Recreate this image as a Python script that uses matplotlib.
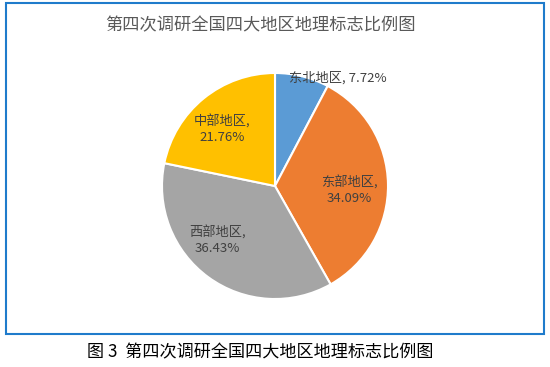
import matplotlib.pyplot as plt
from matplotlib.patches import Rectangle

plt.rcParams['font.family'] = ['Noto Sans CJK SC', 'DejaVu Sans']

regions = ['东北地区', '东部地区', '西部地区', '中部地区']
shares = [7.72, 34.09, 36.43, 21.76]
colors = ['#5B9BD5', '#ED7D31', '#A5A5A5', '#FFC000']
title = '第四次调研全国四大地区地理标志比例图'
caption = '图 3  第四次调研全国四大地区地理标志比例图'

W, H = 550, 367
fig = plt.figure(figsize=(W / 100, H / 100), dpi=100)

# blue frame around the chart
fig.patches.append(Rectangle((5.5 / W, 1 - 334 / H), 538.5 / W, 331.5 / H,
                             transform=fig.transFigure, fill=False,
                             edgecolor='#1F7BCB', linewidth=1.5))

cx, cy, r = 275, 186, 113
ax = fig.add_axes([(cx - r) / W, 1 - (cy + r) / H, 2 * r / W, 2 * r / H])
ax.pie(shares, colors=colors, startangle=90, counterclock=False,
       wedgeprops=dict(edgecolor='white', linewidth=1.5))
ax.set_xlim(-1, 1)
ax.set_ylim(-1, 1)
ax.set_aspect('equal')
ax.axis('off')

# label anchors in pie units (Excel-like placement)
label_pos = [(0.12, 0.955), (0.66, -0.04), (-0.51, -0.48), (-0.47, 0.50)]
for name, v, (x, y) in zip(regions, shares, label_pos):
    if v < 10:
        ax.text(x, y, f'{name}, {v:.2f}%', ha='left', va='center',
                fontsize=9.5, color='#404040')
    else:
        ax.text(x, y, f'{name},\n{v:.2f}%', ha='center', va='center',
                fontsize=9.5, color='#404040', linespacing=1.25)

fig.text(260 / W, 1 - 25 / H, title, ha='center', va='center',
         fontsize=12.4, color='#595959')
fig.text(260 / W, 1 - 352 / H, caption, ha='center', va='center',
         fontsize=12.3, color='black')

fig.savefig('out.png', dpi=100)
